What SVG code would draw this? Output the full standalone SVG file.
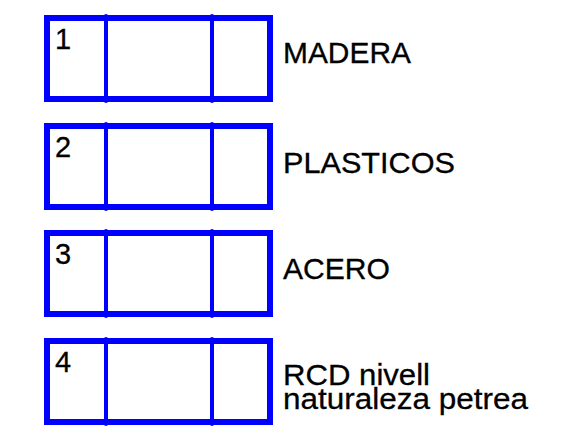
<svg xmlns="http://www.w3.org/2000/svg" width="573" height="429" viewBox="0 0 573 429">
<style>
.frame{fill:none;stroke:#0000ff;stroke-width:6;stroke-linejoin:miter}
.div{stroke:#0000ff;stroke-width:4;stroke-linecap:round}
text{font-family:"Liberation Sans",Arial,sans-serif;font-size:29px;fill:#000;stroke:#000;stroke-width:0.3}
</style>
<rect width="573" height="429" fill="#fff"/>
<defs>
<g id="box">
<rect class="frame" x="47" y="3" width="223" height="81"/>
<line class="div" x1="106" y1="1" x2="106" y2="86"/>
<line class="div" x1="212" y1="1" x2="212" y2="86"/>
</g>
</defs>
<g id="node1">
<use href="#box" y="15"/>
<text x="55" y="49">1</text>
<text x="283" y="63" textLength="128" lengthAdjust="spacingAndGlyphs">MADERA</text>
</g>
<g id="node2">
<use href="#box" y="123"/>
<text x="55" y="157">2</text>
<text x="283" y="173" textLength="172" lengthAdjust="spacingAndGlyphs">PLASTICOS</text>
</g>
<g id="node3">
<use href="#box" y="230"/>
<text x="55" y="264">3</text>
<text x="283" y="279" textLength="107" lengthAdjust="spacingAndGlyphs">ACERO</text>
</g>
<g id="node4">
<use href="#box" y="338"/>
<text x="55" y="372">4</text>
<text x="283" y="385" textLength="147" lengthAdjust="spacingAndGlyphs">RCD nivell</text>
<text x="283" y="409" textLength="245" lengthAdjust="spacingAndGlyphs">naturaleza petrea</text>
</g>
<g id="connectors"></g>
</svg>
